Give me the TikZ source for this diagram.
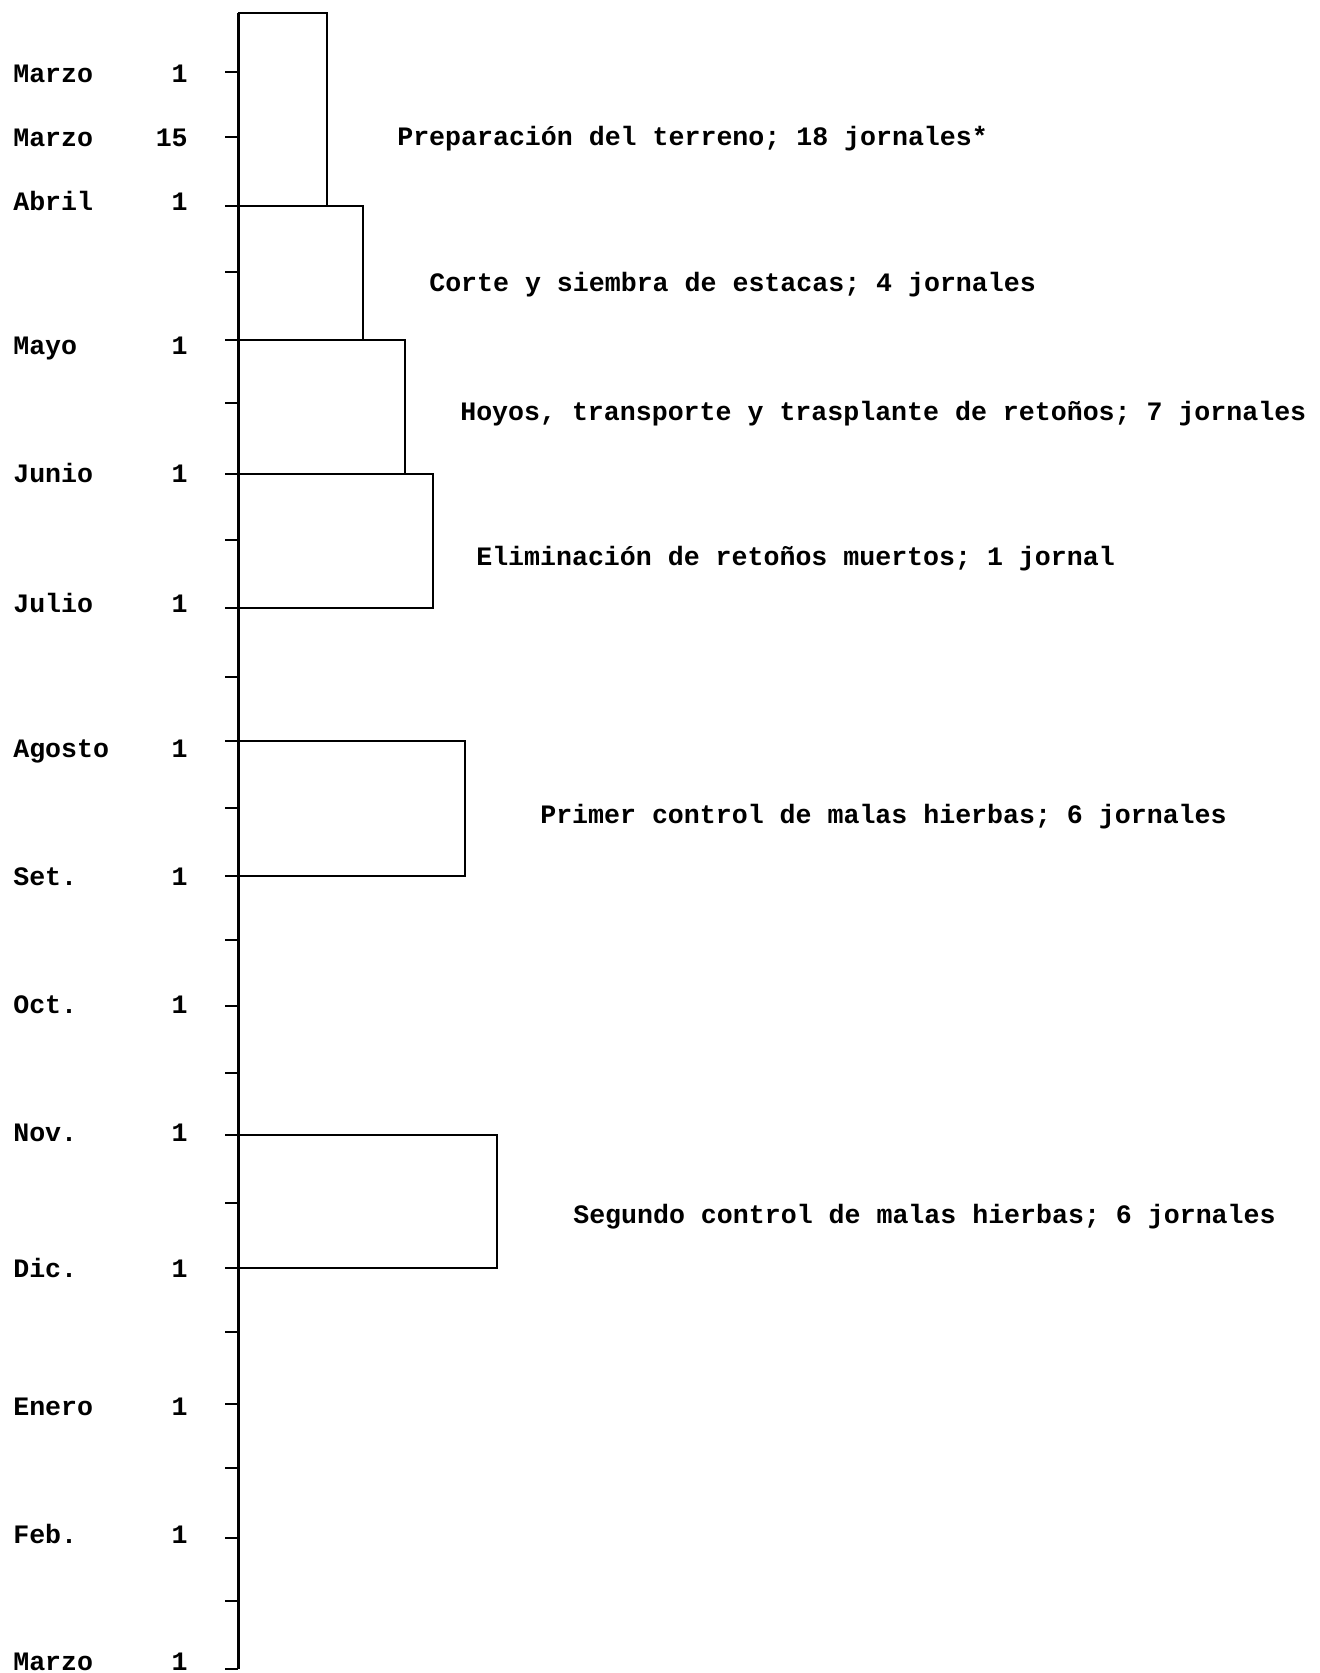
\documentclass[tikz,border=0pt]{standalone}
\usepackage{fontspec}
\setmonofont{Liberation Mono}
\usetikzlibrary{positioning}

\begin{document}
\begin{tikzpicture}[x=0.5pt, y=-0.5pt, line width=1.3pt, every node/.style={inner sep=0pt, font=\ttfamily\bfseries\fontsize{13.3}{16}\selectfont}]
 \tikzstyle{mes}=[anchor=base west];
 \tikzstyle{dia}=[anchor=base east];
 \tikzstyle{tarea}=[anchor=base west];
\useasboundingbox (0,0) rectangle (1319,1673);
\coordinate (top) at (238,13);
\foreach \k/\y in {0/72, 1/137, 2/206, 3/272, 4/340, 5/403, 6/474, 7/540, 8/608, 9/677, 10/741, 11/808, 12/876, 13/940, 14/1006, 15/1073, 16/1135, 17/1203, 18/1268, 19/1332, 20/1404, 21/1468, 22/1538, 23/1601, 24/1669}
 \coordinate (t\k) at (238,\y);
\draw[line width=1.5pt] (top) -- (t24);
\foreach \k in {0,...,24}
 \draw (t\k) -- ++(-13,0);

\foreach \k/\m/\d/\y in {0/Marzo/1/83, 1/Marzo/15/147, 2/Abril/1/211, 4/Mayo/1/355, 6/Junio/1/483, 8/Julio/1/612, 10/Agosto/1/757, 12/Set./1/885, 14/Oct./1/1013, 16/Nov./1/1141, 18/Dic./1/1277, 20/Enero/1/1415, 22/Feb./1/1543, 24/Marzo/1/1670}{
 \node[mes] (m\k) at (12,\y) {\m};
 \node[dia] (d\k) at (189,\y) {\d};
}

\draw (top) -- ++(89,0) |- (t2);
\draw (t2) -- ++(125,0) |- (t4);
\draw (t4) -- ++(167,0) |- (t6);
\draw (t6) -- ++(195,0) |- (t8);
\draw (t10) -- ++(227,0) |- (t12);
\draw (t16) -- ++(259,0) |- (t18);

\node[tarea] (A) at (396,146) {Preparación del terreno; 18 jornales*};
\node[tarea] (B) at (428,292) {Corte y siembra de estacas; 4 jornales};
\node[tarea] (C) at (459,421) {Hoyos, transporte y trasplante de retoños; 7 jornales};
\node[tarea] (D) at (475,565) {Eliminación de retoños muertos; 1 jornal};
\node[tarea] (E) at (539,823) {Primer control de malas hierbas; 6 jornales};
\node[tarea] (F) at (572,1223) {Segundo control de malas hierbas; 6 jornales};

\end{tikzpicture}
\end{document}
